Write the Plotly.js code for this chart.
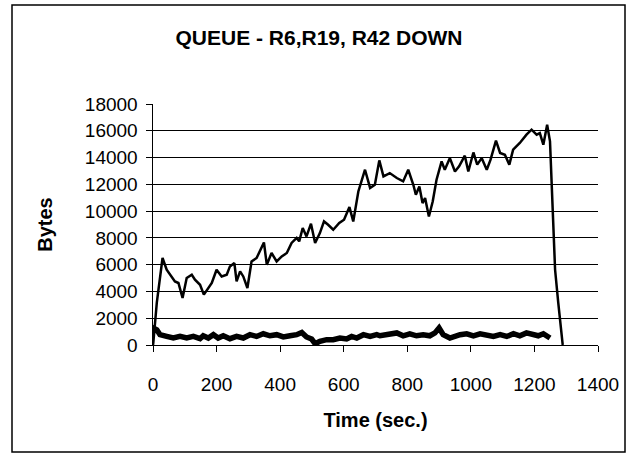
<!DOCTYPE html>
<html>
<head>
<meta charset="utf-8">
<script src="https://cdn.plot.ly/plotly-3.0.1.min.js"></script>
<style>html,body{margin:0;padding:0;background:#fff;}#chart{width:638px;height:459px;}</style>
</head>
<body>
<div id="chart"></div>
<script>
// Upper queue trace (time in sec, bytes)
var queueTime = [0,1,12,22,30,43,53,69,80,93,106,122,132,148,160,174,185,200,216,232,242,256,263,274,284,297,310,326,337,349,358,373,389,405,421,436,452,460,471,483,497,510,525,538,551,567,586,601,618,630,646,667,683,698,712,725,745,767,787,803,819,827,838,848,856,868,880,892,908,918,934,950,963,981,992,1008,1020,1034,1050,1062,1079,1092,1107,1121,1133,1154,1175,1191,1207,1217,1228,1240,1249,1254,1259,1265,1275,1289];
var queueBytes = [0,170,3160,5120,6500,5620,5250,4750,4630,3510,5000,5250,4880,4500,3760,4260,4630,5620,5120,5250,5870,6120,4750,5500,5120,4260,6240,6500,7120,7660,6000,6870,6240,6620,6870,7620,8000,7740,8740,8110,9060,7620,8360,9230,8980,8610,9110,9360,10300,9230,11470,13090,11730,11970,13790,12590,12840,12470,12220,13090,11970,11220,11840,10600,10980,9600,10720,12340,13710,13090,13960,12960,13340,14140,12960,14380,13470,13960,13090,13840,15260,14340,14210,13470,14590,15090,15710,16080,15710,15830,14960,16450,15210,12340,8610,5620,3140,0];

// Lower (thick) queue trace
var lowTime = [1,3,12,22,43,64,85,106,127,148,158,174,190,205,221,242,263,284,305,326,347,368,389,410,431,452,468,483,499,510,525,546,567,588,609,625,641,662,683,704,714,745,767,787,808,829,850,871,887,900,913,934,950,966,987,1008,1029,1050,1071,1092,1113,1134,1154,1175,1196,1212,1228,1249];
var lowBytes = [900,1250,1140,770,640,520,640,520,640,470,690,520,770,520,690,470,640,520,770,640,840,690,770,600,690,770,940,600,450,100,270,400,400,520,450,640,520,770,640,770,690,770,900,690,840,690,770,690,900,1270,770,520,690,770,840,690,840,770,640,770,640,840,690,900,770,690,840,520];

var yTicks = [0,2000,4000,6000,8000,10000,12000,14000,16000,18000];
var xTicks = [0,200,400,600,800,1000,1200,1400];

var fontFam = '"Liberation Sans", Arial, sans-serif';

var traces = [
  {x: queueTime, y: queueBytes, type: 'scatter', mode: 'lines',
   line: {color: '#000', width: 2.5}, hoverinfo: 'none'},
  {x: lowTime, y: lowBytes, type: 'scatter', mode: 'lines',
   line: {color: '#000', width: 5.5}, hoverinfo: 'none'}
];

var layout = {
  width: 638, height: 459,
  margin: {l: 153, r: 40, t: 104, b: 114},
  paper_bgcolor: '#fff', plot_bgcolor: '#fff',
  showlegend: false,
  font: {family: fontFam, color: '#000', size: 19},
  title: {text: '<b>QUEUE - R6,R19, R42 DOWN</b>', x: 0.5, xref: 'container', y: 1 - 38/459, yanchor: 'middle',
          font: {family: fontFam, size: 21, color: '#000'}},
  xaxis: {range: [0, 1400], tickvals: xTicks, ticktext: xTicks.map(String),
          showgrid: false, zeroline: false, showline: true, linecolor: '#000', linewidth: 1,
          ticks: 'outside', ticklen: 6, tickcolor: '#000', ticklabelstandoff: 16,
          tickfont: {family: fontFam, size: 19, color: '#000'},
          title: {text: '<b>Time (sec.)</b>', font: {family: fontFam, size: 20, color: '#000'}, standoff: 19}},
  yaxis: {range: [0, 18000], tickvals: yTicks, ticktext: yTicks.map(String),
          showgrid: true, gridcolor: '#000', gridwidth: 1, zeroline: false,
          showline: true, linecolor: '#000', linewidth: 1.5,
          ticks: 'outside', ticklen: 6, tickcolor: '#000', ticklabelstandoff: 4,
          tickfont: {family: fontFam, size: 19, color: '#000'},
          title: {text: '<b>Bytes</b>', font: {family: fontFam, size: 20, color: '#000'}, standoff: 27}},
  shapes: [
    {type: 'rect', xref: 'paper', yref: 'paper',
     x0: (12-153)/445, x1: (625-153)/445, y0: (345-452)/241, y1: (345-5)/241,
     line: {color: '#000', width: 1.5}, fillcolor: 'rgba(0,0,0,0)', layer: 'below'}
  ]
};

Plotly.newPlot('chart', traces, layout, {displayModeBar: false, staticPlot: true});
</script>
</body>
</html>
